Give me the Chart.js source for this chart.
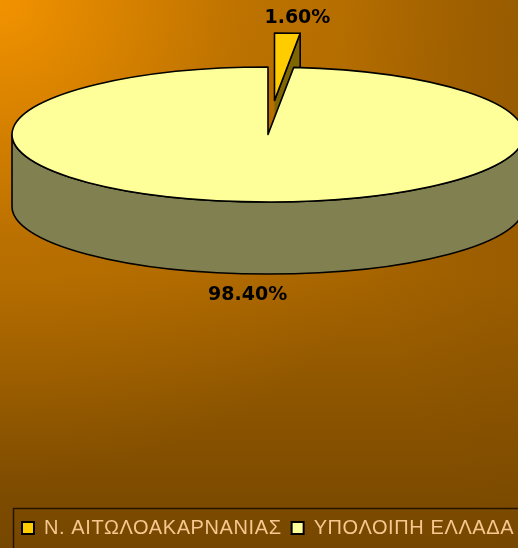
<!DOCTYPE html>
<html>
<head>
<meta charset="utf-8">
<script src="https://cdn.jsdelivr.net/npm/chart.js@4/dist/chart.umd.min.js"></script>
<style>
html,body{margin:0;padding:0;width:518px;height:548px;overflow:hidden;background:#784800}
#wrap{width:580px;height:548px}
canvas{display:block}
</style>
</head>
<body>
<div id="wrap"><canvas id="c" width="580" height="548"></canvas></div>
<script>
// ---- data ----
const categories = ['Ν. ΑΙΤΩΛΟΑΚΑΡΝΑΝΙΑΣ', 'ΥΠΟΛΟΙΠΗ ΕΛΛΑΔΑ'];
const shares = [1.6, 98.4];

// ---- styling (kept apart from the data) ----
const STYLE = {
  top: ['#ffcc00', '#ffff99'],
  side: ['#806600', '#808050'],
  explode: [0.505, 0],          // fraction of radius
  ellipse: { cx: 268, cy: 134.5, rx: 256, ry: 67.5, depth: 72 }
};

function frontSegments(s, e) {
  const out = [];
  for (let k = -1; k <= 1; k++) {
    const a = Math.max(s, 2 * Math.PI * k), b = Math.min(e, Math.PI + 2 * Math.PI * k);
    if (b > a) out.push([a, b]);
  }
  return out;
}

const bgPlugin = {
  id: 'bg',
  beforeLayout(chart) { chart.ctx.letterSpacing = '0.6px'; },
  beforeDraw(chart) {
    const { ctx, width, height } = chart;
    ctx.save();
    let g = ctx.createLinearGradient(0, 0, 0, 548);
    g.addColorStop(0, 'rgb(172,104,0)');
    g.addColorStop(0.5, 'rgb(166,100,0)');
    g.addColorStop(0.78, 'rgb(136,82,0)');
    g.addColorStop(1, 'rgb(118,71,0)');
    ctx.fillStyle = g; ctx.fillRect(0, 0, width, height);
    g = ctx.createRadialGradient(0, 0, 0, 0, 0, 480);
    g.addColorStop(0, 'rgba(242,146,0,1)');
    g.addColorStop(0.5, 'rgba(242,146,0,0.25)');
    g.addColorStop(1, 'rgba(242,146,0,0)');
    ctx.fillStyle = g; ctx.fillRect(0, 0, width, height);
    ctx.save();
    ctx.translate(600, 0);
    ctx.scale(1, 600 / 260);
    g = ctx.createRadialGradient(0, 0, 0, 0, 0, 260);
    g.addColorStop(0, 'rgba(110,64,0,0.45)');
    g.addColorStop(1, 'rgba(110,64,0,0)');
    ctx.fillStyle = g; ctx.fillRect(-700, -10, 800, 300);
    ctx.restore();
    ctx.restore();
  },
  afterDraw(chart) {
    const L = chart.legend, ctx = chart.ctx;
    ctx.save();
    ctx.strokeStyle = '#241400';
    ctx.lineWidth = 1.5;
    ctx.strokeRect(L.left + 1.5, L.top + 0.5, 1000, 1000);
    ctx.restore();
  }
};

const pie3dPlugin = {
  id: 'pie3d',
  beforeDatasetsDraw(chart) {
    const ctx = chart.ctx;
    const E = STYLE.ellipse, D = E.depth;
    const arcs = chart.getDatasetMeta(0).data;
    const R = arcs[0].outerRadius;
    const sx = E.rx / R, sy = E.ry / R;
    const G = arcs.map((arc, i) => {
      const mid = (arc.startAngle + arc.endAngle) / 2;
      const off = STYLE.explode[i] * R;
      return { i, arc, s: arc.startAngle, e: arc.endAngle, mid,
        cx: E.cx + Math.cos(mid) * off * sx, cy: E.cy + Math.sin(mid) * off * sy };
    }).sort((a, b) => Math.sin(a.mid) - Math.sin(b.mid));

    ctx.save();
    ctx.letterSpacing = '0px';
    ctx.lineJoin = 'round';
    ctx.lineWidth = 1.6;
    ctx.strokeStyle = '#000';
    G.forEach(g => {
      // radial faces
      [[g.e, Math.cos(g.e) > 0.001], [g.s, -Math.cos(g.s) > 0.001]].forEach(([ang, vis]) => {
        if (!vis) return;
        const px = g.cx + E.rx * Math.cos(ang), py = g.cy + E.ry * Math.sin(ang);
        ctx.beginPath();
        ctx.moveTo(g.cx, g.cy); ctx.lineTo(px, py); ctx.lineTo(px, py + D); ctx.lineTo(g.cx, g.cy + D);
        ctx.closePath();
        ctx.fillStyle = STYLE.side[g.i]; ctx.fill();
        ctx.beginPath();
        ctx.moveTo(g.cx, g.cy); ctx.lineTo(px, py); ctx.lineTo(px, py + D); ctx.lineTo(g.cx, g.cy + D);
        ctx.stroke();
      });
      // outer wall
      frontSegments(g.s, g.e).forEach(([a, b]) => {
        ctx.beginPath();
        ctx.ellipse(g.cx, g.cy, E.rx, E.ry, 0, a, b, false);
        ctx.lineTo(g.cx + E.rx * Math.cos(b), g.cy + E.ry * Math.sin(b) + D);
        ctx.ellipse(g.cx, g.cy + D, E.rx, E.ry, 0, b, a, true);
        ctx.closePath();
        ctx.fillStyle = STYLE.side[g.i]; ctx.fill(); ctx.stroke();
      });
      // top face drawn by the library's arc element
      ctx.save();
      ctx.translate(g.cx, g.cy); ctx.scale(sx, sy); ctx.translate(-g.arc.x, -g.arc.y);
      g.arc.draw(ctx);
      ctx.restore();
      ctx.beginPath();
      ctx.moveTo(g.cx, g.cy);
      ctx.ellipse(g.cx, g.cy, E.rx, E.ry, 0, g.s, g.e, false);
      ctx.closePath();
      ctx.stroke();
    });
    // labels
    ctx.font = 'bold 19px "DejaVu Sans", sans-serif';
    ctx.fillStyle = '#000';
    ctx.textAlign = 'center';
    ctx.textBaseline = 'alphabetic';
    G.forEach(g => {
      const dx = Math.cos(g.mid), dy = Math.sin(g.mid);
      const px = g.cx + E.rx * dx;
      let py = g.cy + E.ry * dy;
      const txt = shares[g.i].toFixed(2) + '%';
      if (dy < 0) ctx.fillText(txt, px + dx * 200, py - 10);
      else ctx.fillText(txt, px + dx * 150, py + D + 26);
    });
    ctx.restore();
    return false;
  }
};

new Chart(document.getElementById('c'), {
  type: 'pie',
  data: {
    labels: categories,
    datasets: [{
      data: shares,
      backgroundColor: STYLE.top,
      borderWidth: 0,
      clip: false
    }]
  },
  options: {
    responsive: false,
    animation: false,
    events: [],
    radius: 200,
    layout: { padding: { left: 12, right: 0, top: 0, bottom: 0 } },
    plugins: {
      tooltip: { enabled: false },
      legend: {
        position: 'bottom',
        align: 'start',
        labels: {
          boxWidth: 12,
          boxHeight: 12,
          padding: 10,
          color: '#f6c890',
          font: { family: '"Liberation Sans", Arial, sans-serif', size: 20 },
          generateLabels(chart) {
            const items = Chart.overrides.doughnut.plugins.legend.labels.generateLabels(chart);
            return items.map(it => Object.assign({}, it, { strokeStyle: '#000', lineWidth: 2 }));
          }
        }
      }
    }
  },
  plugins: [bgPlugin, pie3dPlugin]
});
</script>
</body>
</html>
